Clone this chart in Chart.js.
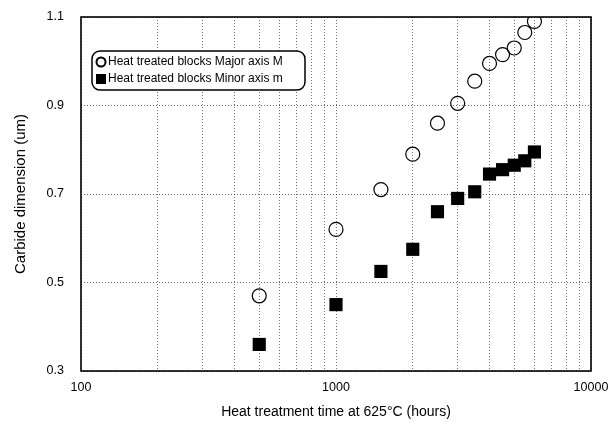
<!DOCTYPE html>
<html>
<head>
<meta charset="utf-8">
<script src="https://cdn.jsdelivr.net/npm/chart.js@4/dist/chart.umd.min.js"></script>
<style>
  html, body { margin: 0; padding: 0; background: #fff; }
  #wrap { width: 612px; height: 423px; }
</style>
</head>
<body>
<div id="wrap"><canvas id="c" width="612" height="423"></canvas></div>
<script>
// Heat treatment times (hours) at 625 °C
const hours = [500, 1000, 1500, 2000, 2500, 3000, 3500, 4000, 4500, 5000, 5500, 6000];
// Mean carbide dimensions (um)
const majorAxis = [0.47, 0.62, 0.71, 0.79, 0.86, 0.905, 0.955, 0.995, 1.015, 1.03, 1.065, 1.09];
const minorAxis = [0.36, 0.45, 0.525, 0.575, 0.66, 0.69, 0.705, 0.745, 0.755, 0.765, 0.775, 0.795];

const seriesNames = ['Heat treated blocks Major axis M', 'Heat treated blocks Minor axis m'];

// Axis ticks
const xTickValues = [100, 200, 300, 400, 500, 600, 700, 800, 900,
                     1000, 2000, 3000, 4000, 5000, 6000, 7000, 8000, 9000, 10000];
const xTickLabels = [100, 1000, 10000];
const yTickValues = [0.3, 0.5, 0.7, 0.9, 1.1];

const FONT = "'Liberation Sans', Arial, Helvetica, sans-serif";

const toPoints = (xs, ys) => xs.map((x, i) => ({ x: x, y: ys[i] }));

// Frame around the plot area
const framePlugin = {
  id: 'frame',
  afterDraw(chart) {
    const { ctx, chartArea: a } = chart;
    ctx.save();
    ctx.strokeStyle = '#000';
    ctx.lineWidth = 1.6;
    ctx.strokeRect(a.left, a.top, a.right - a.left, a.bottom - a.top);
    ctx.restore();
  }
};

// Rounded legend box inside the plot area
const boxLegendPlugin = {
  id: 'boxLegend',
  afterDraw(chart) {
    const { ctx, chartArea: a } = chart;
    const x = a.left + 11, y = a.top + 34, w = 213, h = 39, r = 8;
    ctx.save();
    ctx.fillStyle = '#fff';
    ctx.strokeStyle = '#000';
    ctx.lineWidth = 1.5;
    ctx.beginPath();
    ctx.roundRect(x, y, w, h, r);
    ctx.fill();
    ctx.stroke();

    ctx.font = '12px ' + FONT;
    ctx.textBaseline = 'middle';
    ctx.fillStyle = '#000';
    chart.data.datasets.forEach((ds, i) => {
      const cy = y + 11 + i * 17;
      const mx = x + 9;
      if (ds.pointStyle === 'circle') {
        ctx.beginPath();
        ctx.lineWidth = 2;
        ctx.arc(mx, cy, 4.5, 0, Math.PI * 2);
        ctx.fillStyle = '#fff';
        ctx.fill();
        ctx.stroke();
      } else {
        ctx.fillStyle = '#000';
        ctx.fillRect(mx - 5, cy - 5, 10, 10);
      }
      ctx.fillStyle = '#000';
      ctx.fillText(ds.label, x + 16, cy);
    });
    ctx.restore();
  }
};

new Chart(document.getElementById('c'), {
  type: 'scatter',
  data: {
    datasets: [
      {
        label: seriesNames[0],
        data: toPoints(hours, majorAxis),
        pointStyle: 'circle',
        pointRadius: 7,
        pointHoverRadius: 7,
        backgroundColor: 'rgba(255,255,255,0)',
        borderColor: '#000',
        borderWidth: 1.2
      },
      {
        label: seriesNames[1],
        data: toPoints(hours, minorAxis),
        pointStyle: 'rect',
        pointRadius: 9.3,
        pointHoverRadius: 9.3,
        backgroundColor: '#000',
        borderColor: '#000',
        borderWidth: 0
      }
    ]
  },
  options: {
    responsive: false,
    animation: false,
    events: [],
    layout: { padding: { left: 0, right: 21, top: 17, bottom: 0 } },
    plugins: {
      legend: { display: false },
      tooltip: { enabled: false }
    },
    scales: {
      x: {
        type: 'logarithmic',
        min: 100,
        max: 10000,
        afterBuildTicks(scale) {
          scale.ticks = xTickValues.map(v => ({ value: v }));
        },
        afterFit(scale) {
          scale.height = 52;
          scale.paddingLeft = 0;
          scale.paddingRight = 0;
        },
        grid: {
          color: 'rgba(0,0,0,0.55)',
          lineWidth: 1,
          drawTicks: false
        },
        border: { display: false, dash: [1, 2] },
        ticks: {
          autoSkip: false,
          maxRotation: 0,
          padding: 9,
          color: '#000',
          font: { family: FONT, size: 12.5 },
          callback: (v) => xTickLabels.includes(v) ? String(v) : ''
        },
        title: {
          display: true,
          text: 'Heat treatment time at 625°C (hours)',
          color: '#000',
          font: { family: FONT, size: 14 },
          padding: { top: 0, bottom: 2 }
        }
      },
      y: {
        type: 'linear',
        min: 0.3,
        max: 1.1,
        afterBuildTicks(scale) {
          scale.ticks = yTickValues.map(v => ({ value: v }));
        },
        afterFit(scale) {
          scale.width = 81;
          scale.paddingTop = 0;
          scale.paddingBottom = 0;
        },
        grid: {
          color: 'rgba(0,0,0,0.6)',
          lineWidth: 1,
          drawTicks: false
        },
        border: { display: false, dash: [1, 2] },
        ticks: {
          padding: 17,
          color: '#000',
          font: { family: FONT, size: 12.5 },
          callback: (v) => Number(v).toFixed(1)
        },
        title: {
          display: true,
          text: 'Carbide dimension (um)',
          color: '#000',
          font: { family: FONT, size: 15 },
          padding: { top: 12, bottom: 0 }
        }
      }
    }
  },
  plugins: [framePlugin, boxLegendPlugin]
});
</script>
</body>
</html>
